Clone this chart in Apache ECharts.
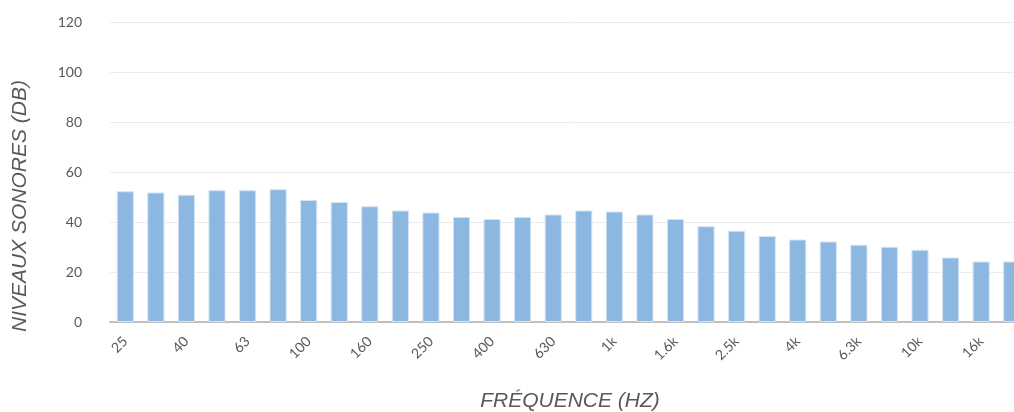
<!DOCTYPE html>
<html>
<head>
<meta charset="utf-8">
<script src="https://cdn.jsdelivr.net/npm/echarts@6/dist/echarts.min.js"></script>
<style>
	html, body { margin: 0; padding: 0; overflow: hidden; background: #fff; }
	#chart { width: 1027px; height: 412px; }
</style>
</head>
<body>
<div id="chart"></div>
<script>
// bandes de tiers d'octave
var frequences = ['25', '31.5', '40', '50', '63', '80', '100', '125', '160', '200',
	'250', '315', '400', '500', '630', '800', '1k', '1.25k', '1.6k', '2k',
	'2.5k', '3.15k', '4k', '5k', '6.3k', '8k', '10k', '12.5k', '16k', '20k'];
var niveaux = [52.3, 51.8, 50.9, 52.7, 52.7, 53.1, 48.8, 48.0, 46.3, 44.6,
	43.8, 42.0, 41.2, 42.0, 43.0, 44.6, 44.2, 43.0, 41.2, 38.3,
	36.5, 34.4, 33.0, 32.2, 30.9, 30.1, 28.9, 25.8, 24.2, 24.2];
var yTicks = { min: 0, max: 120, interval: 20 };

var myChart = echarts.init(document.getElementById('chart'));
var option = {
	animation: false,
	grid: {
		left: 110,
		right: 0,
		top: 22,
		bottom: 90
	},
	xAxis: {
		type: 'category',
		data: frequences,
		axisTick: { show: false },
		axisLine: {
			lineStyle: { color: '#bfbfbf', width: 2 }
		},
		axisLabel: {
			interval: 1,
			rotate: 45,
			margin: 17,
			color: '#595959',
			fontSize: 14,
			fontFamily: 'Lato'
		}
	},
	yAxis: {
		type: 'value',
		min: yTicks.min,
		max: yTicks.max,
		interval: yTicks.interval,
		axisLine: { show: false },
		axisTick: { show: false },
		axisLabel: {
			margin: 28,
			color: '#595959',
			fontSize: 14,
			fontFamily: 'Lato'
		},
		splitLine: {
			lineStyle: { color: '#ececec', width: 1 }
		}
	},
	graphic: [{
		type: 'text',
		x: 20,
		y: 206,
		rotation: Math.PI / 2,
		style: {
			text: 'NIVEAUX SONORES (DB)',
			fill: '#595959',
			font: 'italic 21px "Liberation Sans"',
			textAlign: 'center',
			textVerticalAlign: 'middle'
		}
	}, {
		type: 'text',
		x: 570,
		y: 401,
		style: {
			text: 'FRÉQUENCE (HZ)',
			fill: '#595959',
			font: 'italic 21px "Liberation Sans"',
			textAlign: 'center',
			textVerticalAlign: 'middle'
		}
	}],
	series: [{
		type: 'bar',
		data: niveaux,
		barWidth: '56%',
		itemStyle: {
			color: '#8cb7e1',
			borderColor: '#d2e3f4',
			borderWidth: 1
		}
	}]
};
myChart.setOption(option);
window.addEventListener("resize", function(){
	myChart.resize();
});
</script>
</body>
</html>
